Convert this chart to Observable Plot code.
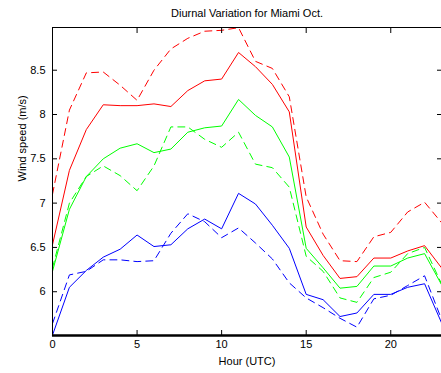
<!DOCTYPE html>
<html>
<head>
<meta charset="utf-8">
<script src="https://cdn.jsdelivr.net/npm/d3@7"></script>
<script src="https://cdn.jsdelivr.net/npm/@observablehq/plot@0.6"></script>
<style>
  html, body { margin: 0; padding: 0; background: #fff; }
  #chart svg { display: block; }
</style>
</head>
<body>
<div id="chart"></div>
<script>
const hours = [0,1,2,3,4,5,6,7,8,9,10,11,12,13,14,15,16,17,18,19,20,21,22,23];

const redSolid    = [6.53,7.37,7.83,8.11,8.10,8.10,8.12,8.09,8.27,8.38,8.40,8.70,8.54,8.34,8.03,6.73,6.41,6.15,6.17,6.38,6.38,6.46,6.52,6.27];
const redDashed   = [7.10,8.05,8.47,8.48,8.33,8.16,8.50,8.74,8.86,8.94,8.95,8.98,8.60,8.52,8.20,7.07,6.65,6.35,6.34,6.62,6.67,6.90,7.01,6.78];
const greenSolid  = [6.23,6.93,7.30,7.50,7.62,7.67,7.57,7.61,7.80,7.85,7.87,8.17,7.99,7.86,7.52,6.49,6.27,6.04,6.06,6.29,6.29,6.38,6.43,6.08];
const greenDashed = [6.27,7.00,7.30,7.42,7.31,7.14,7.42,7.86,7.86,7.72,7.63,7.80,7.44,7.40,7.18,6.40,6.23,5.93,5.88,6.16,6.22,6.43,6.50,6.09];
const blueSolid   = [5.51,6.05,6.24,6.39,6.48,6.64,6.51,6.53,6.71,6.82,6.71,7.11,6.99,6.75,6.49,5.97,5.91,5.72,5.76,5.97,5.97,6.05,6.09,5.65];
const blueDashed  = [5.64,6.19,6.23,6.36,6.36,6.34,6.35,6.66,6.88,6.79,6.61,6.72,6.55,6.37,6.10,5.93,5.82,5.70,5.60,5.92,5.96,6.07,6.18,5.69];

const xTicks = [0,5,10,15,20];
const yTicks = [6,6.5,7,7.5,8,8.5];
const xDomain = [0, 23];
const yDomain = [5.506, 8.982];

const titleText = "Diurnal Variation for Miami Oct.";
const xLabel = "Hour (UTC)";
const yLabel = "Wind speed (m/s)";

const seriesDefs = [
  {name: "redSolid", values: redSolid, color: "#ff0000", dash: null},
  {name: "redDashed", values: redDashed, color: "#ff0000", dash: "7,5"},
  {name: "greenSolid", values: greenSolid, color: "#00ff00", dash: null},
  {name: "greenDashed", values: greenDashed, color: "#00ff00", dash: "7,5"},
  {name: "blueSolid", values: blueSolid, color: "#0000ff", dash: null},
  {name: "blueDashed", values: blueDashed, color: "#0000ff", dash: "7,5"}
];

const lineMarks = seriesDefs.map(s =>
  Plot.line(hours.map((h, i) => ({hour: h, value: s.values[i]})), {
    x: "hour", y: "value", stroke: s.color, strokeWidth: 1,
    strokeDasharray: s.dash ?? undefined
  })
);

const fmt = d => `${d}`;
const blank = () => "";

const chart = Plot.plot({
  width: 441,
  height: 373,
  marginLeft: 52,
  marginRight: 0,
  marginTop: 27,
  marginBottom: 38,
  style: {fontFamily: "'Liberation Sans', Arial, sans-serif", fontSize: "11px", color: "#000", background: "#fff"},
  x: {domain: xDomain},
  y: {domain: yDomain},
  marks: [
    ...lineMarks,
    Plot.frame({stroke: "#000", strokeWidth: 1}),
    Plot.ruleY([yDomain[0]], {stroke: "#000", strokeWidth: 2.5}),
    Plot.axisX({anchor: "bottom", ticks: xTicks, tickSize: -5, tickPadding: 10, tickFormat: fmt, label: null}),
    Plot.axisX({anchor: "top", ticks: xTicks, tickSize: -5, tickPadding: 10, tickFormat: blank, label: null}),
    Plot.axisY({anchor: "left", ticks: yTicks, tickSize: -5, tickPadding: 12, tickFormat: fmt, label: null}),
    Plot.axisY({anchor: "right", ticks: yTicks, tickSize: -5, tickPadding: 10, tickFormat: blank, label: null}),
    Plot.text([titleText], {frameAnchor: "top", lineAnchor: "bottom", dy: -11, fontSize: 11}),
    Plot.text([xLabel], {frameAnchor: "bottom", lineAnchor: "bottom", dy: 29, fontSize: 11}),
    Plot.text([yLabel], {frameAnchor: "left", lineAnchor: "bottom", rotate: -90, dx: -27, fontSize: 11})
  ]
});

document.getElementById("chart").appendChild(chart);
</script>
</body>
</html>
